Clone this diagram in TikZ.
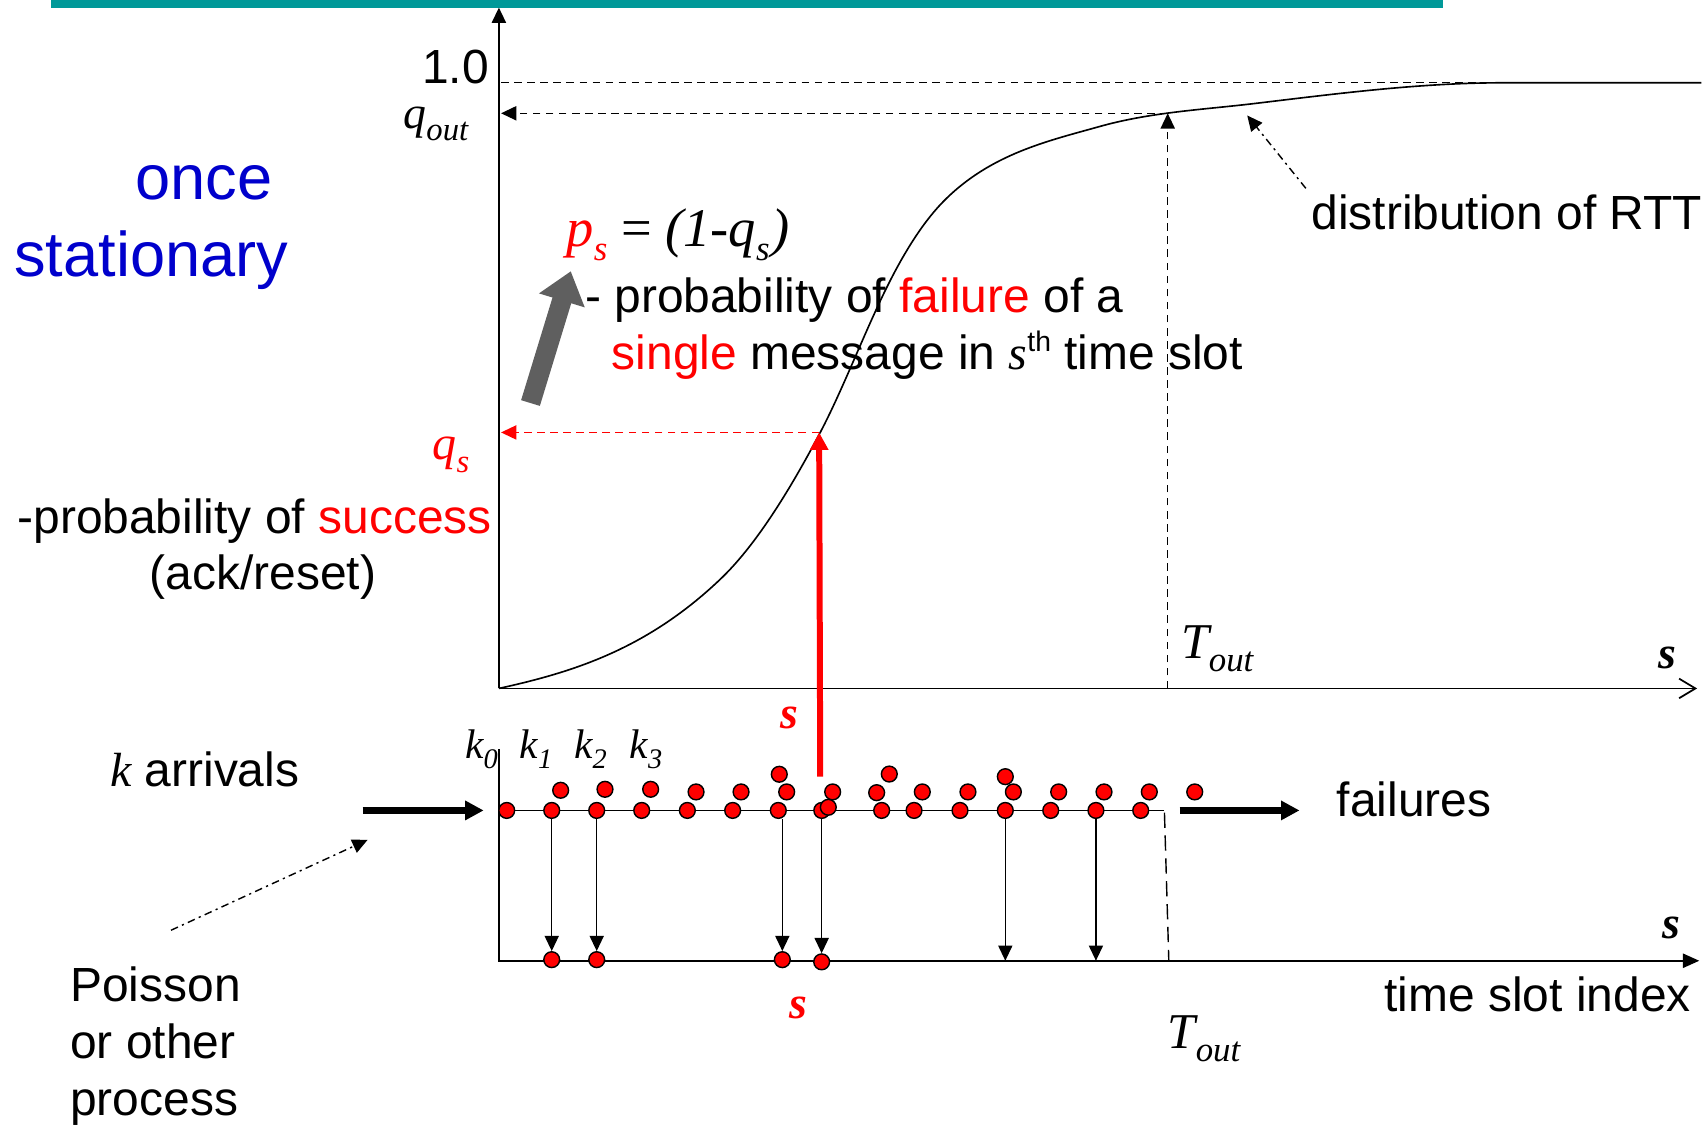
\documentclass[tikz,border=0pt]{standalone}
\usepackage{fontspec}
\setmainfont{Liberation Sans}
\newfontfamily\tnr{Liberation Serif}
\usepackage{tikz}
\usetikzlibrary{arrows.meta, positioning}

\definecolor{barteal}{RGB}{0,153,153}
\definecolor{stblue}{RGB}{0,0,204}
\definecolor{arrowgray}{RGB}{95,95,95}

\newcommand{\lowtxt}[2][30]{\lower0.26em\hbox{\fontsize{#1}{#1}\selectfont #2}}
\newcommand{\hightxt}[2][26]{\raise0.38em\hbox{\fontsize{#1}{#1}\selectfont #2}}

\begin{document}
\begin{tikzpicture}[
    x=1pt, y=-1pt,
    >={Triangle[width=13pt,length=14pt]},
    txt/.style={inner sep=0pt, font=\fontsize{44}{44}\selectfont},
    ital/.style={inner sep=0pt, font=\fontsize{44}{44}\selectfont\tnr\itshape},
    boldital/.style={inner sep=0pt, font=\fontsize{42}{42}\selectfont\tnr\bfseries\itshape},
    bluetxt/.style={inner sep=0pt, text=stblue, font=\fontsize{58}{58}\selectfont},
    pkt/.style={circle, draw=black, fill=red, line width=1.3pt, minimum size=14.5pt, inner sep=0pt},
    axisln/.style={line width=1.6pt},
    dashln/.style={line width=1.3pt, dash pattern=on 7pt off 5pt},
    ddline/.style={line width=1.3pt, dash pattern=on 7pt off 4pt on 2pt off 4pt},
    fat/.style={line width=6pt, -{Triangle[width=17pt,length=17pt]}}
]
\useasboundingbox (0,0) rectangle (1568,1035);

% Title bar
\fill[barteal] (47,0) rectangle (1325,7);

% Upper plot: axes
\coordinate (O) at (458,632);
\coordinate (ytop) at (458,7);
\coordinate (xend) at (1558,632);
\draw[axisln, ->] (O) -- (ytop);
\draw[axisln, -{Straight Barb[length=15pt,width=18pt]}] (O) -- (xend);

% Levels 1.0 and q_out
\coordinate (Tq) at (1072,104);
\coordinate (Tx) at (1072,632);
\draw[dashln] (460,76) -- (1562,76);
\draw[dashln, ->] (Tx) -- (Tq);
\draw[dashln, ->] (Tq) -- (460,104);

% Distribution curve
\draw[line width=1.5pt] (O)
    .. controls (525.7,617.1) and (593.3,596.3) .. (661,532)
    .. controls (691.7,502.9) and (722.3,455.3) .. (753,397)
    .. controls (773.7,357.7) and (794.3,303.3) .. (815,262)
    .. controls (832.3,227.3) and (849.7,201.3) .. (867,184)
    .. controls (910,141) and (962.3,129.4) .. (1010,116)
    .. controls (1057.3,102.8) and (1104.7,100.7) .. (1152,95)
    .. controls (1228,85.9) and (1304,76) .. (1380,76)
    -- (1562,76);

% q_s level and slot s
\coordinate (Sq) at (752,397);
\coordinate (Sb) at (753,713);
\draw[dashln, red, ->] (Sq) -- (460,397);
\draw[red, line width=5.5pt, -{Triangle[width=16pt,length=16pt]}] (Sb) -- (Sq);

% Gray arrow
\draw[arrowgray, line width=18pt, -{Triangle[width=42pt,length=28pt]}] (487,370) -- (524,249);

% Labels of the upper plot
\node[bluetxt, anchor=base west] (once) at (124,183.6) {once};
\node[bluetxt, anchor=base west] (stat) at (13,254) {stationary};
\node[txt, anchor=base east] (one) at (449,76.5) {1.0};
\node[ital, font=\fontsize{42}{42}\selectfont\tnr\itshape, anchor=base east] (qout) at (430,118) {q\lowtxt{out}};
\node[ital, font=\fontsize{50}{50}\selectfont\tnr\itshape, anchor=base west] (ps) at (520,226) {\textcolor{red}{p\lowtxt[32]{s}} {\upshape =} (1-q\lowtxt[32]{s}\kern2pt)};
\node[txt, anchor=base west] (fail1) at (537,287) {- probability of \textcolor{red}{failure} of a};
\node[txt, anchor=base west] (fail2) at (561.5,339) {\textcolor{red}{single} message in {\tnr\itshape s}\hightxt{th} time slot};
\node[ital, text=red, anchor=base east] (qs) at (431,422) {q\lowtxt{s}};
\node[txt, anchor=base east] (succ) at (451.5,489.6) {-probability of \textcolor{red}{success}};
\node[txt, anchor=base] (ack) at (241.5,541.6) {(ack/reset)};
\node[txt, anchor=base west] (dist) at (1203.8,211) {distribution of RTT};
\draw[ddline, ->] ([shift={(-5,-6)}]dist.north west) -- (1145,106);
\node[ital, font=\fontsize{46}{46}\selectfont\tnr\itshape, anchor=base west] (tout) at (1084,604.4) {T\lowtxt[32]{out}};
\node[boldital, anchor=base west] (sx) at (1522,613.5) {s};
\node[boldital, text=red] (sred) at (725,659) {s};

% Lower plot: queue of slots
\draw[axisln] (458,744) -- (1069,744);
\draw[line width=1.3pt, dash pattern=on 14pt off 7pt] (1069,746) -- (1073,882);
\coordinate (O2) at (458,882);
\draw[axisln, -{Triangle[width=13pt,length=15pt]}] (458,688) -- (O2) -- (1560,882);

% Arrivals on the slot line
\foreach \x [count=\i] in {465.2,506.5,547.8,589.1,631.0,672.6,714.5,754.4,809.4,839.1,881.3,922.9,964.6,1006.1,1047.2}
    \node[pkt] (a\i) at (\x,744) {};
\node[pkt] (a16) at (760.4,741.1) {};
\foreach \x/\y [count=\i] in {514.7/725.5,555.4/724.6,597.3/724.6,639/727,680.3/727,722.2/727,764.4/727,804.8/727.7,846.7/727,888.6/727,930.3/727,971.9/727,1013.5/727,1055.1/727,1096.8/727}
    \node[pkt] (b\i) at (\x,\y) {};
\foreach \x/\y [count=\i] in {715.4/710.8,816.4/710.6,922.9/713}
    \node[pkt] (c\i) at (\x,\y) {};

% Successes on the time axis
\node[pkt] (d1) at (506.5,881) {};
\node[pkt] (d2) at (547.8,881) {};
\node[pkt] (d3) at (718.2,881) {};
\node[pkt] (d4) at (754.3,883) {};
\coordinate (d5) at (922.9,882);
\coordinate (d6) at (1006.1,882);
\draw[line width=1.3pt, ->] (a2) -- (d1);
\draw[line width=1.3pt, ->] (a3) -- (d2);
\draw[line width=1.3pt, ->] (a7.south -| d3) -- (d3.north);
\draw[line width=1.3pt, ->] (a8.south -| d4) -- (d4.north);
\draw[line width=1.3pt, ->] (a12) -- (d5);
\draw[line width=1.3pt, ->] (a14) -- (d6);

% Inflow and outflow
\coordinate (inL) at (333,744);
\coordinate (inR) at (444,744);
\coordinate (outL) at (1083,744);
\coordinate (outR) at (1193,744);
\draw[fat] (inL) -- (inR);
\draw[fat] (outL) -- (outR);

% Labels of the lower plot
\node[txt, anchor=base west] (karr) at (101,721.6) {{\tnr\itshape k} arrivals};
\foreach \x/\n in {427/0,477/1,527/2,578/3}
    \node[ital, font=\fontsize{38}{38}\selectfont\tnr\itshape, anchor=base west] (k\n) at (\x,696) {k\lowtxt[26]{\n}};
\node[txt, anchor=base west] (failr) at (1227,749.7) {failures};
\node[boldital, anchor=base west] (sx2) at (1526,861.4) {s};
\node[txt, anchor=base east] (tsi) at (1552.5,928.7) {time slot index};
\node[ital, font=\fontsize{46}{46}\selectfont\tnr\itshape, anchor=base west] (tout2) at (1072,962.4) {T\lowtxt[32]{out}};
\node[boldital, text=red] (sred2) at (733,925) {s};
\foreach \t/\y [count=\i] in {Poisson/919.6,or other/971.6,process/1023.6}
    \node[txt, anchor=base west] (pois\i) at (64.3,\y) {\t};
\coordinate (pp) at (157,854);
\coordinate (pq) at (337.5,771);
\draw[ddline, ->] (pp) -- (pq);

\end{tikzpicture}
\end{document}
